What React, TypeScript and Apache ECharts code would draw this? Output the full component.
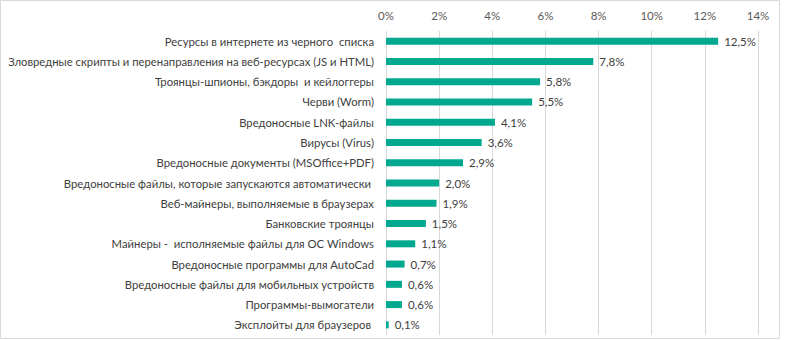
import React, { useEffect, useRef } from "react";
import * as echarts from "echarts";

const categories = [
  "Ресурсы в интернете из черного  списка",
  "Зловредные скрипты и перенаправления на веб-ресурсах (JS и HTML)",
  "Троянцы-шпионы, бэкдоры  и кейлоггеры",
  "Черви (Worm)",
  "Вредоносные LNK-файлы",
  "Вирусы (Virus)",
  "Вредоносные документы (MSOffice+PDF)",
  "Вредоносные файлы, которые запускаются автоматически ",
  "Веб-майнеры, выполняемые в браузерах",
  "Банковские троянцы",
  "Майнеры -  исполняемые файлы для ОС Windows",
  "Вредоносные программы для AutoCad",
  "Вредоносные файлы для мобильных устройств",
  "Программы-вымогатели",
  "Эксплойты для браузеров ",
];
const values = [12.5, 7.8, 5.8, 5.5, 4.1, 3.6, 2.9, 2.0, 1.9, 1.5, 1.1, 0.7, 0.6, 0.6, 0.1];
const tickMin = 0;
const tickMax = 14;
const tickStep = 2;

const FONT = "Lato, 'Open Sans', sans-serif";

export default function App() {
  const ref = useRef<HTMLDivElement>(null);
  useEffect(() => {
    if (!ref.current) return;
    const chart = echarts.init(ref.current, null, { renderer: "svg" });
    chart.setOption({
      animation: false,
      backgroundColor: "#ffffff",
      graphic: [
        {
          type: "rect",
          shape: { x: 0.5, y: 0.5, width: 779, height: 338 },
          style: { fill: "none", stroke: "#d9d9d9", lineWidth: 1 },
          z: 0,
        },
      ],
      grid: {
        left: 386,
        right: 28,
        top: 31,
        bottom: 5,
        containLabel: false,
        outerBoundsMode: "none",
      },
      xAxis: {
        type: "value",
        position: "top",
        min: tickMin,
        max: tickMax,
        interval: tickStep,
        axisLine: { show: false },
        axisTick: { show: false },
        splitLine: { show: true, lineStyle: { color: "#d9d9d9", width: 1 } },
        axisLabel: {
          formatter: (v: number) => `${v}%`,
          color: "#595959",
          fontFamily: FONT,
          fontSize: 11.5,
          margin: 10,
        },
      },
      yAxis: {
        type: "category",
        inverse: true,
        data: categories,
        axisLine: { show: false },
        axisTick: { show: false },
        axisLabel: {
          color: "#404040",
          fontFamily: FONT,
          fontSize: 11.3,
          margin: 12,
        },
      },
      series: [
        {
          type: "bar",
          data: values,
          barWidth: 7,
          itemStyle: { color: "#00a88f" },
          label: {
            show: true,
            position: "right",
            distance: 6,
            color: "#404040",
            fontFamily: FONT,
            fontSize: 11.5,
            formatter: (p: any) => `${p.value.toFixed(1).replace(".", ",")}%`,
          },
        },
      ],
    });
    return () => chart.dispose();
  }, []);
  return (
    <div
      ref={ref}
      style={{ position: "absolute", left: 0, top: 0, width: 786, height: 340 }}
    />
  );
}
